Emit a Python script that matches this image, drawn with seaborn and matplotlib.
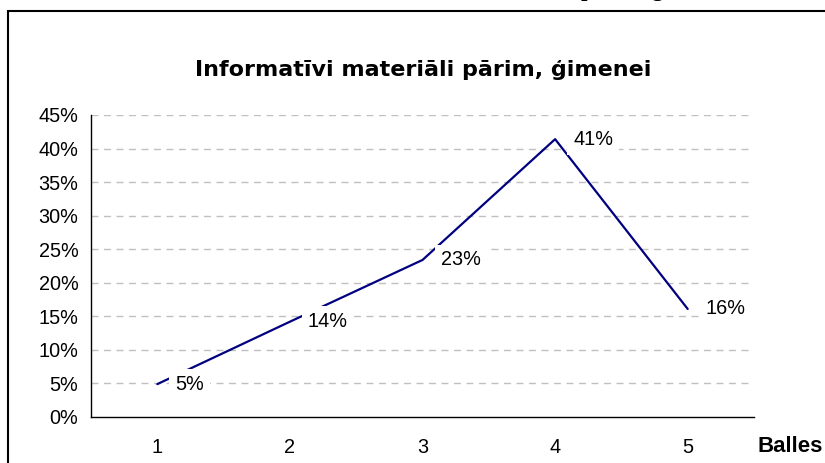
import pandas as pd
import matplotlib.pyplot as plt
import matplotlib.patches as mpatches
import seaborn as sns

balles = [1, 2, 3, 4, 5]
shares = [0.049, 0.142, 0.234, 0.414, 0.161]
y_ticks = [0.0, 0.05, 0.10, 0.15, 0.20, 0.25, 0.30, 0.35, 0.40, 0.45]

sns.set_theme(style="white")
plt.rcParams["font.family"] = ["Liberation Sans", "DejaVu Sans"]
plt.rcParams["text.color"] = "black"
plt.rcParams["xtick.color"] = "black"
plt.rcParams["ytick.color"] = "black"

df = pd.DataFrame({"Balle": balles, "Share": shares})

fig = plt.figure(figsize=(8.25, 4.63), dpi=100)
ax = fig.add_axes([91 / 825, 1 - 417 / 463, 663 / 825, 302 / 463])

sns.lineplot(data=df, x="Balle", y="Share", color="#000080", linewidth=1.6, ax=ax)

for x, y in zip(balles, shares):
    ax.annotate(f"{y:.0%}", (x, y), xytext=(13, 0), textcoords="offset points",
                ha="left", va="center", fontsize=14.3, color="black",
                bbox=dict(boxstyle="square,pad=0.3", fc="white", ec="none"))

ax.set_xlim(0.5, 5.5)
ax.set_ylim(0, 0.45)
ax.set_yticks(y_ticks)
ax.set_yticklabels([f"{t:.0%}" for t in y_ticks], fontsize=14.3)
ax.set_xticks(balles)
ax.set_xticklabels([str(b) for b in balles], fontsize=14.3)
ax.set_xticks([b + 0.5 for b in [0] + balles], minor=True)
ax.tick_params(axis="x", which="major", length=0, pad=15)
ax.tick_params(axis="x", which="minor", length=5, width=1, color="black", direction="out")
ax.tick_params(axis="y", length=5, width=1, color="black", direction="out", pad=4)
ax.set_xlabel("")
ax.set_ylabel("")

for t in y_ticks[1:]:
    ax.axhline(t, color="#c0c0c0", lw=1, ls=(0, (5, 4)), zorder=0)

for s in ["top", "right"]:
    ax.spines[s].set_visible(False)
for s in ["left", "bottom"]:
    ax.spines[s].set_color("black")
    ax.spines[s].set_linewidth(1)

fig.text(423 / 825, 1 - 70 / 463, "Informatīvi materiāli pārim, ģimenei",
         fontsize=16.0, fontweight="bold", family=["DejaVu Sans"],
         ha="center", va="center", color="black")

fig.text(823 / 825, 1 - 447 / 463, "Balles", fontsize=16, fontweight="bold",
         ha="right", va="center", color="black")

# chart area border (cut off at right and bottom)
fig.add_artist(mpatches.Rectangle((8 / 825, -0.05), 1.1, 1 - 11 / 463 + 0.05,
                                  transform=fig.transFigure, fill=False,
                                  ec="black", lw=1.5, clip_on=False))

# remnant of the page heading above the chart
fig.text(581 / 825, 1 + 4 / 463, "pārim, ģimenei", fontsize=16.5,
         fontweight="bold", family=["Liberation Serif", "DejaVu Serif"],
         ha="left", va="baseline", color="black")

fig.savefig("out.png", dpi=100)
